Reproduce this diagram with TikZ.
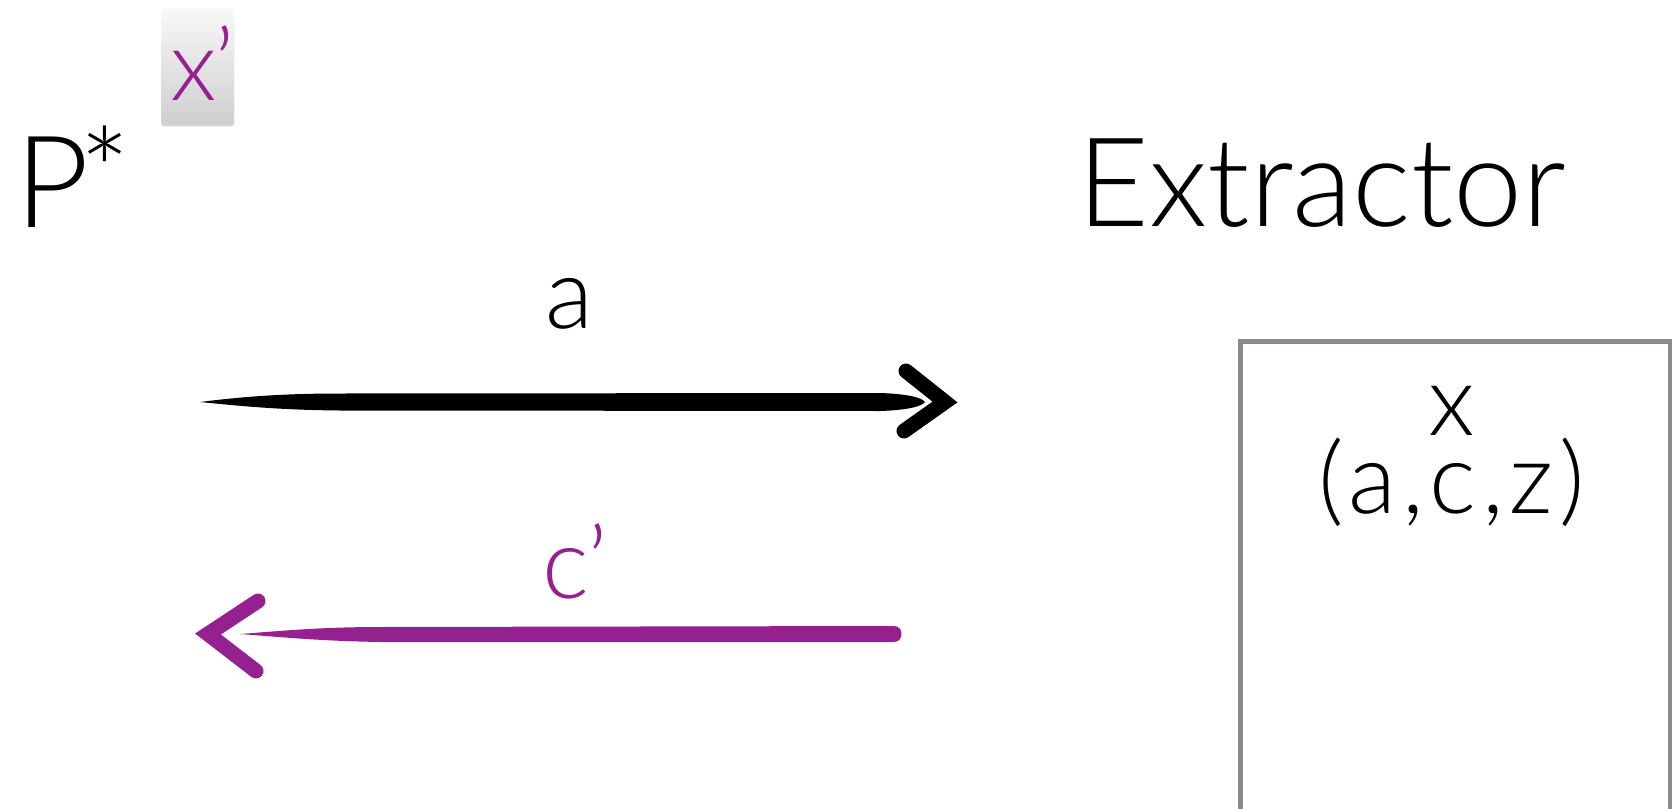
\documentclass[tikz,border=0pt]{standalone}
\usepackage{fontspec}
\setmainfont{Liberation Sans}
\IfFontExistsTF{Lato Light}{\newfontfamily\gill{Lato Light}}{\newfontfamily\gill{Lato}}
\usetikzlibrary{calc,shadows}
\definecolor{mypurple}{RGB}{149,33,145}
\definecolor{boxgray}{RGB}{136,139,143}
\begin{document}
\begin{tikzpicture}[x=0.5pt,y=-0.5pt,
  lbl/.style={inner sep=0pt,font=\gill\fontsize{49.5}{39}\selectfont},
  big/.style={inner sep=0pt,font=\gill\fontsize{64}{64}\selectfont},
  chev/.style={line width=7.5pt,line cap=round,line join=miter}]
\useasboundingbox (0,0) rectangle (1672,809);
\clip (0,0) rectangle (1672,809);

% x' tab
\node[rounded corners=1.5pt, top color=gray!5, bottom color=gray!38,
      drop shadow={opacity=0.35,shadow xshift=0pt,shadow yshift=-1.2pt},
      minimum width=36.5pt, minimum height=58pt, inner sep=0pt] (xbox) at (197.5,66) {};
\node[lbl, text=mypurple, anchor=base west] (xprime) at (170,100) {x\kern-1pt’};

% P*
\node[big, anchor=base west] (P) at (15,227)
  {P\kern-5pt\raisebox{6pt}{\fontsize{60}{60}\selectfont *}};

% Extractor
\node[big, font=\gill\fontsize{62}{62}\selectfont, anchor=base west] (ext) at (1077,226) {Extractor};

% Extractor box
\node[draw=boxgray, line width=2.5pt, minimum width=215pt, minimum height=260pt,
      inner sep=0pt, anchor=north west] (extbox) at (1237.5,338.5) {};
\node[lbl, align=center, anchor=base] (xacz) at (1452,513)
  {x\\\addfontfeature{LetterSpace=6}(a,c,z)};

% labels
\node[lbl, anchor=base west] (la) at (545,328) {a};
\node[lbl, text=mypurple, anchor=base west] (lc) at (542,598) {c\kern-1pt’};

% black arrow a
\coordinate (aTail) at (200,402);
\coordinate (aTip) at (945,402);
\fill[black] (aTail) .. controls (240,397) and (280,393.5) .. (340,393.5) -- (880,393)
  .. controls (910,394) and (922,398) .. (925,402)
  .. controls (922,406) and (910,410) .. (880,411) -- (340,410.5)
  .. controls (280,410) and (240,406) .. (aTail) -- cycle;
\draw[chev, black] (906,371) -- (aTip) -- (904,431);

% purple arrow c'
\coordinate (pTail) at (240,634);
\coordinate (pTip) at (208,634);
\fill[mypurple] (pTail) .. controls (280,631) and (320,627) .. (380,627) -- (894,626)
  .. controls (904,626) and (904,642) .. (894,642) -- (380,642)
  .. controls (320,641) and (280,637) .. (pTail) -- cycle;
\draw[chev, mypurple] (258,601) -- (pTip) -- (256,671);
\end{tikzpicture}
\end{document}
